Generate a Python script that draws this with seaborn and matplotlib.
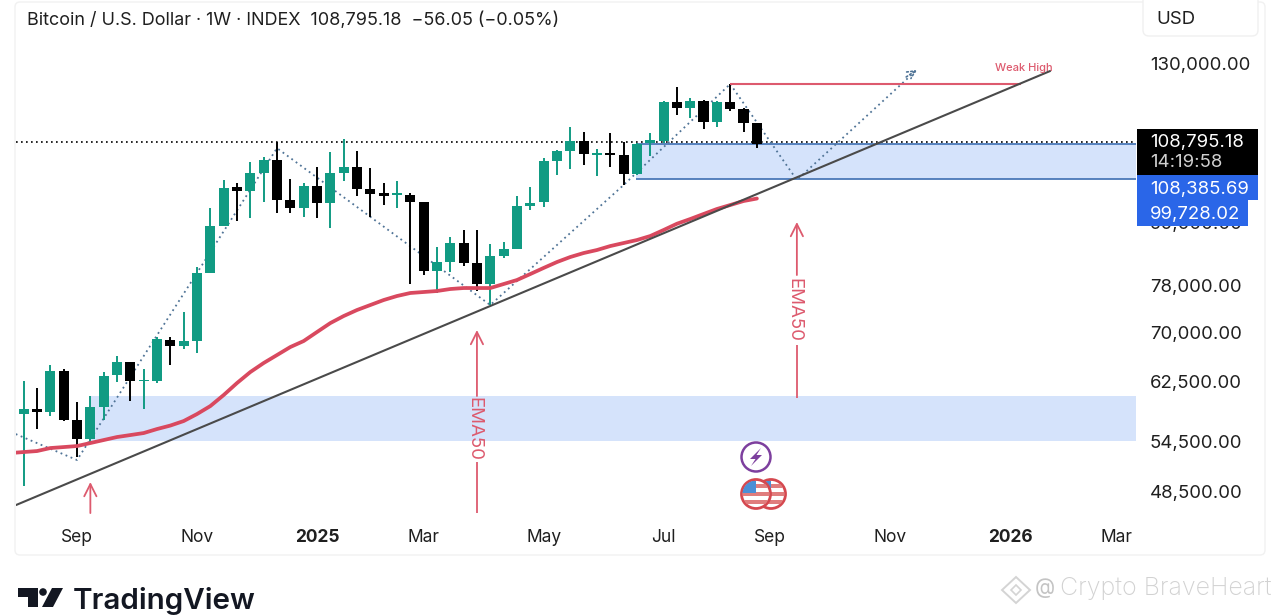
import numpy as np
import pandas as pd
import seaborn as sns
import matplotlib
matplotlib.use("Agg")
import matplotlib.pyplot as plt
from matplotlib.patches import Rectangle, Circle, Polygon, FancyBboxPatch
from matplotlib.transforms import Affine2D
from matplotlib.ticker import FixedLocator, NullLocator

# weekly candles, prices
opens = [58010, 58680, 58280, 64040, 57217, 54770, 58950, 63450, 65380, 62584,
         62580, 68770, 67825, 68610, 80220, 89370, 97750, 96860, 100950, 104016,
         94878, 93150, 97970, 94220, 100950, 102350, 97310, 96410, 95970, 95970,
         94440, 80590, 82270, 85945, 82085, 78215, 83415, 84770, 93570, 94440,
         103780, 106190, 108660, 105220, 105700, 105220, 100720, 108160, 108660, 118850,
         117220, 119125, 113510, 118850, 116955, 113250]
closes = [58680, 58280, 64040, 57217, 54770, 58950, 63305, 65380, 62584, 62728,
          68930, 67825, 68610, 80220, 89370, 97530, 96860, 100950, 104016, 94878,
          93150, 97970, 94220, 100950, 102350, 97310, 96190, 95750, 96410, 94440,
          80590, 82270, 85945, 82085, 78215, 83415, 84770, 93570, 94220, 103780,
          106190, 108660, 105460, 105700, 105220, 100720, 107910, 108910, 118850, 117220,
          119125, 113510, 118850, 116955, 113250, 108000]
highs = [62600, 61580, 64925, 64330, 59630, 60460, 63890, 66280, 65380, 64330,
         69240, 69240, 73340, 81330, 93150, 99340, 98660, 103540, 104730, 108410,
         99570, 98660, 102350, 105945, 109160, 106190, 102120, 98660, 99110, 96410,
         94220, 85170, 87140, 88555, 88555, 85750, 86145, 95660, 97750, 104495,
         106435, 112090, 110930, 106680, 110680, 108410, 108160, 110680, 119125, 123010,
         119950, 119400, 119125, 123870, 117220, 113250]
lows = [49160, 56045, 57740, 57085, 52550, 54395, 57217, 62440, 59770, 58680,
        62300, 64925, 67360, 66745, 80220, 89370, 90410, 91030, 94440, 92080,
        92080, 91240, 91030, 88960, 99110, 95750, 91240, 93790, 93150, 78215,
        79850, 76620, 80400, 81510, 76970, 74525, 83035, 84770, 92720, 93360,
        100480, 101880, 102820, 100255, 102350, 98200, 100480, 104980, 108160, 115360,
        114560, 111700, 112210, 116420, 110930, 107000]

# EMA50, one value a week, starting the week before the first candle
ema50 = [53035, 53160, 53280, 53650, 53770, 53895, 54270, 54646, 55025, 55275,
         55530, 56045, 56495, 57085, 58010, 59085, 60600, 62295, 63890, 65230,
         66435, 67670, 68610, 70045, 71500, 72665, 73680, 74530, 75390, 76090,
         76620, 76795, 76970, 77325, 77500, 77500, 77500, 78215, 78940, 80030,
         81160, 82270, 83225, 83990, 84575, 85350, 85945, 86540, 87340, 88555,
         89840, 90820, 91880, 92940, 93790, 94660, 95200]

# hand drawn things on the chart (week number, price)
zigzag_weeks = [-0.6, 4, 19, 35, 45, 53]
zigzag_prices = [55400, 52190, 106900, 74525, 98200, 123870]
forecast_weeks = [53, 58, 67]
forecast_prices = [123870, 99342, 127950]
trend_weeks = [-0.58, 77]
trend_prices = [47060, 127630]
weak_high_weeks = [53, 74.8]
weak_high_price = 123870

# where the lines sit on the picture, the labels carry the printed values
last_line = 108400
zone_top, zone_bottom = 107900, 99480
low_zone_top, low_zone_bottom = 60460, 54520

price_ticks = [48500, 54500, 62500, 70000, 78000, 90000, 130000]
month_weeks = [4, 13, 22, 30, 39, 48, 56, 65, 74, 82]
month_labels = ["Sep", "Nov", "2025", "Mar", "May", "Jul", "Sep", "Nov", "2026", "Mar"]

TEAL = "#119b83"
RED = "#dd5a6e"
ZONE = "#d5e3fb"
BLUE = "#2a66e8"
DOTS = "#4f7396"

sns.set_theme(style="white")
plt.rcParams["font.family"] = ["Inter", "DejaVu Sans"]

fig = plt.figure(figsize=(12.8, 6.15), dpi=100)
# screen pixels, y going down
px = Affine2D().scale(1, -1).translate(0, 615)

fig.add_artist(FancyBboxPatch((15, 2), 1250, 553, boxstyle="round,pad=0,rounding_size=5",
                              fc="white", ec="#f1f1f1", lw=1, transform=px, zorder=-1))

ax = fig.add_axes([16 / 1280, (615 - 518) / 615, 1120 / 1280, 518 / 615])
ax.patch.set_alpha(0)
ax.set_yscale("log")
ax.set_xlim(-0.578, 83.44)
ax.set_ylim(45680, 150260)
sns.despine(ax=ax, left=True, bottom=True, right=True, top=True)

weeks = np.arange(len(opens))
candles = pd.DataFrame({"week": weeks, "open": opens, "close": closes, "high": highs, "low": lows})
candles["color"] = np.where(candles["close"] >= candles["open"], TEAL, "black")

# zones under everything else
ax.axhspan(low_zone_bottom, low_zone_top, xmin=(5 + 0.578) / 84.018, color=ZONE, lw=0, zorder=1)
ax.axhspan(zone_bottom, zone_top, xmin=(45.9 + 0.578) / 84.018, color=ZONE, lw=0, zorder=1)
ax.hlines([zone_top, zone_bottom], 45.9, 83.44, color="#4a78b8", lw=1.3, zorder=2)
ax.axhline(last_line, color="black", lw=1.2, ls=(0, (1, 2)), zorder=2)

sns.lineplot(x=zigzag_weeks, y=zigzag_prices, sort=False, estimator=None, ax=ax,
             color=DOTS, lw=1.3, ls=(0, (1, 2)), zorder=3)
sns.lineplot(x=forecast_weeks, y=forecast_prices, sort=False, estimator=None, ax=ax,
             color=DOTS, lw=1.3, ls=(0, (1, 2)), zorder=3)
ax.annotate("", xy=(67, 127950), xytext=(66.2, 125900),
            arrowprops=dict(arrowstyle="->", color=DOTS, lw=1.2, ls=(0, (1, 1.5)),
                            mutation_scale=14, shrinkA=0, shrinkB=0), zorder=3)

ax.vlines(candles["week"], candles["low"], candles["high"], colors=candles["color"], lw=1.4, zorder=4)
ax.bar(candles["week"], (candles["close"] - candles["open"]).abs(),
       bottom=candles[["open", "close"]].min(axis=1), width=0.76,
       color=candles["color"], lw=0, zorder=5)

sns.lineplot(x=np.arange(-1, 56), y=ema50, ax=ax, color="#d9495f", lw=2.7, zorder=6)
sns.lineplot(x=trend_weeks, y=trend_prices, ax=ax, color="#4a4a4a", lw=1.5, zorder=6)
ax.hlines(weak_high_price, *weak_high_weeks, color=RED, lw=1.5, zorder=5)
ax.text(75.05, 128500, "Weak High", color=RED, fontsize=8, fontweight="medium",
        ha="center", va="center", zorder=7)


def red_arrow(week, base, tip):
    ax.annotate("", xy=(week, tip), xytext=(week, base),
                arrowprops=dict(arrowstyle="->", color=RED, lw=1.3, mutation_scale=22,
                                shrinkA=0, shrinkB=0), zorder=7)


red_arrow(5, 46200, 49615)
red_arrow(34, 60460, 70370)
ax.vlines(34, 46200, 51950, color=RED, lw=1.3, zorder=7)
ax.text(33.75, 56045, "EMA50", color=RED, fontsize=13.5, rotation=270, ha="center", va="center", zorder=7)
red_arrow(58, 79850, 90200)
ax.vlines(58, 60190, 67980, color=RED, lw=1.3, zorder=7)
ax.text(57.75, 73680, "EMA50", color=RED, fontsize=13.5, rotation=270, ha="center", va="center", zorder=7)

# axes text
ax.yaxis.tick_right()
ax.yaxis.set_major_locator(FixedLocator(price_ticks))
ax.yaxis.set_minor_locator(NullLocator())
ax.set_yticklabels([f"{p:,.2f}" for p in price_ticks])
ax.tick_params(axis="y", length=0, pad=10, labelsize=13.4, labelcolor="#1f1f1f")
ax.set_xticks(month_weeks)
ax.set_xticklabels(month_labels)
ax.tick_params(axis="x", length=0, pad=8, labelsize=12.5, labelcolor="#1f1f1f")
for lab in ax.get_xticklabels():
    if lab.get_text() in ("2025", "2026"):
        lab.set_fontweight("bold")
ax.set_xlabel("")
ax.set_ylabel("")

fig.text(27, 20.5, "Bitcoin / U.S. Dollar · 1W · INDEX  108,795.18  −56.05 (−0.05%)", transform=px,
         fontsize=12.95, color="#1f1f1f", va="center")

# USD button and price labels
fig.add_artist(FancyBboxPatch((1143, -6), 115, 42, boxstyle="round,pad=0,rounding_size=6",
                              fc="white", ec="#f0f0f0", lw=1, transform=px))
fig.text(1156, 20, "USD", transform=px, fontsize=13.4, color="#1f1f1f", va="center")
fig.add_artist(Rectangle((1137, 129), 121, 46, fc="black", ec="none", transform=px, zorder=5))
fig.add_artist(Rectangle((1137, 175), 121, 25, fc=BLUE, ec="none", transform=px, zorder=5))
fig.add_artist(Rectangle((1137, 200), 111, 26, fc=BLUE, ec="none", transform=px, zorder=5))
fig.text(1150.5, 142.5, "108,795.18", transform=px, fontsize=13.4, color="white", va="center", zorder=6)
fig.text(1150.5, 162.5, "14:19:58", transform=px, fontsize=13.4, color="#d0d0d0", va="center", zorder=6)
fig.text(1150.5, 189.5, "108,385.69", transform=px, fontsize=13.4, color="white", va="center", zorder=6)
fig.text(1149.5, 214.5, "99,728.02", transform=px, fontsize=13.4, color="white", va="center", zorder=6)

# event icons
fig.add_artist(Circle((756, 457), 14.5, fc="white", ec="#7d3f9e", lw=1.8, transform=px, zorder=6))
fig.add_artist(Polygon([(761, 448), (750, 459), (755.5, 459), (751, 466), (762, 455), (756.5, 455)],
                       fc="#7d3f9e", ec="none", transform=px, zorder=7))
for cx in (771, 756):
    ring = Circle((cx, 494), 14.5, fc="white", ec="#d5484f", lw=2, transform=px, zorder=6)
    fig.add_artist(ring)
    for sy in (486, 494, 502):
        stripe = Rectangle((cx - 15, sy - 2), 30, 4, fc="#e07d7d", ec="none", transform=px, zorder=6)
        fig.add_artist(stripe)
        stripe.set_clip_path(Circle((cx, 494), 13.5, transform=px))
    canton = Rectangle((cx - 14, 481), 14, 12, fc="#4b8fd6", ec="none", transform=px, zorder=6)
    fig.add_artist(canton)
    canton.set_clip_path(Circle((cx, 494), 13.5, transform=px))

# TradingView logo
fig.add_artist(Polygon([(18, 588), (38, 588), (38, 607), (28, 607), (28, 597), (18, 597)],
                       fc="#131722", ec="none", transform=px))
fig.add_artist(Circle((43, 592), 3.8, fc="#131722", ec="none", transform=px))
fig.add_artist(Polygon([(52, 588), (63, 588), (53, 607), (42, 607)], fc="#131722", ec="none", transform=px))
fig.text(73, 601, "TradingView", transform=px, fontsize=21.3, fontweight="semibold", color="#131722", va="center")

# watermark
fig.add_artist(Polygon([(1016, 577), (1030, 590), (1016, 603), (1002, 590)], fc="white", ec="#d4d4d4",
                       lw=1.4, transform=px))
fig.add_artist(Polygon([(1016, 585), (1021, 590), (1016, 595), (1011, 590)], fc="white", ec="#d4d4d4",
                       lw=1.2, transform=px))
fig.text(1035, 588, "@", transform=px, fontsize=15, color="#c4c4c4", va="center")
fig.text(1060, 588, "Crypto BraveHeart", transform=px, fontsize=18, color="#d2d2d2",
         fontweight="light", va="center")

fig.savefig("out.png", dpi=100)
